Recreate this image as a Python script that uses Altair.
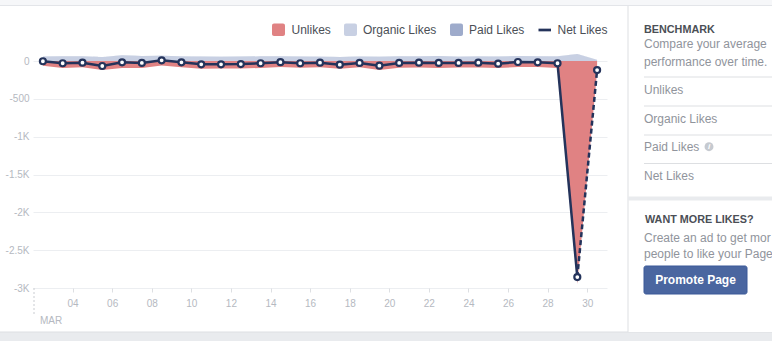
import altair as alt
import pandas as pd

FONT = "Liberation Sans"
OX, OY = 33, 61          # plot-area origin on the page
W, H = 574, 227

# ---- data (March, daily) ----
days = list(range(2, 31))
net = [-3, -30, -22, -66, -17, -26, 9, -17, -44, -44, -40, -30, -15, -30, -22,
       -49, -26, -62, -26, -22, -26, -26, -22, -36, -13, -17, -30, -2855, -120]
organic = [57, 61, 60, 52, 72, 64, 67, 62, 57, 54, 57, 60, 61, 56, 59,
           51, 56, 54, 60, 62, 64, 59, 62, 56, 64, 60, 62, 88, 16]
paid = [2, 2, 2, 1, 3, 2, 2, 2, 2, 2, 2, 2, 2, 2, 2,
        1, 2, 2, 2, 2, 2, 2, 2, 2, 2, 2, 2, 4, 1]
unlikes = [62, 93, 84, 119, 92, 92, 60, 81, 103, 100, 99, 92, 78, 88, 83,
           101, 84, 118, 88, 86, 92, 87, 86, 94, 79, 79, 94, 2947, 137]

y_ticks = [-3000, -2500, -2000, -1500, -1000, -500, 0]
x_ticks = list(range(4, 31, 2))
legend_items = ["Unlikes", "Organic Likes", "Paid Likes", "Net Likes"]
bench_items = ["Unlikes", "Organic Likes", "Paid Likes", "Net Likes"]

C_UNL = "#e08283"
C_ORG = "#c8d0e3"
C_PAID = "#9eabcb"
C_NET = "#24335b"
C_AX = "#b5b9c1"
C_TXT = "#4b4f56"
C_GRAY = "#90949c"

df = pd.DataFrame({"day": days, "net": net, "organic": organic,
                   "paid": paid, "unlikes": unlikes})
df["x"] = df["day"] + 0.5
df["zero"] = 0
df["unl_lo"] = -df["unlikes"]
df["paid_hi"] = df["organic"] + df["paid"]

solid = df[df["day"] <= 29]
dashed = df[df["day"] >= 29]

xscale = alt.Scale(domain=[2, 31], nice=False, zero=False)
yscale = alt.Scale(domain=[-3000, 0], nice=False, zero=False)
xaxis = alt.Axis(values=x_ticks, title=None, grid=False, domain=False,
                 ticks=True, tickSize=4, tickColor="#dddfe2", labelColor=C_AX,
                 labelFont=FONT, labelFontSize=10, labelPadding=6,
                 labelOverlap=False,
                 labelExpr="datum.value < 10 ? '0' + datum.value : '' + datum.value")
yaxis = alt.Axis(values=y_ticks, title=None, grid=True, gridColor="#eceef1",
                 domain=False, ticks=False, labelColor=C_AX, labelFont=FONT,
                 labelFontSize=10, labelPadding=4,
                 labelExpr="datum.value == 0 ? '0' : (datum.value <= -1000 ? (datum.value/1000) + 'K' : '' + datum.value)")

def X():
    return alt.X("x:Q", scale=xscale, axis=xaxis)

def Y(f):
    return alt.Y(f + ":Q", scale=yscale, axis=yaxis)

area_unl = alt.Chart(df).mark_area(color=C_UNL, opacity=1).encode(
    x=X(), y=Y("unl_lo"), y2="zero:Q")
area_org = alt.Chart(df).mark_area(color=C_ORG, opacity=1).encode(
    x=X(), y=Y("organic"), y2="zero:Q")
area_paid = alt.Chart(df).mark_area(color=C_PAID, opacity=1).encode(
    x=X(), y=Y("paid_hi"), y2="organic:Q")
line_solid = alt.Chart(solid).mark_line(color=C_NET, strokeWidth=2.5).encode(
    x=X(), y=Y("net"))
line_dash = alt.Chart(dashed).mark_line(color=C_NET, strokeWidth=2.5,
                                        strokeDash=[5, 3]).encode(
    x=X(), y=Y("net"))
pts = alt.Chart(df).mark_point(shape="circle", filled=True, fill="white",
                               stroke=C_NET, strokeWidth=2.2, size=36,
                               opacity=1).encode(x=X(), y=Y("net"))

one = pd.DataFrame({"k": [0]})

def rect(x1, x2, y1, y2, fill, stroke=None, sw=1, cr=0):
    kw = dict(fill=fill, cornerRadius=cr)
    if stroke:
        kw["stroke"] = stroke
        kw["strokeWidth"] = sw
    return alt.Chart(one).mark_rect(**kw).encode(
        x=alt.value(x1 - OX), x2=alt.value(x2 - OX),
        y=alt.value(y1 - OY), y2=alt.value(y2 - OY))

def rule(x1, x2, y1, y2, color, sw=1, dash=None):
    kw = dict(color=color, strokeWidth=sw)
    if dash:
        kw["strokeDash"] = dash
    return alt.Chart(one).mark_rule(**kw).encode(
        x=alt.value(x1 - OX), x2=alt.value(x2 - OX),
        y=alt.value(y1 - OY), y2=alt.value(y2 - OY))

def text(s, x, y, size=12, color=C_TXT, weight="normal", align="left",
         style="normal"):
    return alt.Chart(one).mark_text(text=s, align=align, baseline="middle",
                                    font=FONT, fontSize=size, fontWeight=weight,
                                    fontStyle=style, color=color).encode(
        x=alt.value(x - OX), y=alt.value(y - OY))

deco = [
    rect(0, 772, 0, 5, "#f6f7f9"),
    rule(0, 772, 5.5, 5.5, "#e3e5e9"),
    rect(0, 772, 332, 341, "#e9ebee"),
    rule(0, 772, 332, 332, "#dddfe2"),
]

extra = [
    rule(34, 34, 288, 316, "#c9ccd1", 1, [2, 2]),
    text("MAR", 40, 321, 10, C_AX),
]

# legend
legend = [
    rect(272, 285, 23.5, 36, C_UNL, cr=2),
    text(legend_items[0], 291.5, 30, 12, C_TXT),
    rect(344, 357, 23.5, 36, C_ORG, cr=2),
    text(legend_items[1], 363, 30, 12, C_TXT),
    rect(450, 463, 23.5, 36, C_PAID, cr=2),
    text(legend_items[2], 469, 30, 12, C_TXT),
    rule(538.5, 551, 30, 30, C_NET, 2.7),
    text(legend_items[3], 557.5, 30, 12, C_TXT),
]

# right panel
panel = [
    rect(628, 772, 6, 332, "white"),
    rule(628, 628, 6, 332, "#dddfe2"),
    rect(628, 772, 196.5, 200.5, "#e9ebee"),
    text("BENCHMARK", 644, 29.5, 10.8, C_TXT, "bold"),
    text("Compare your average", 644, 44, 12, C_GRAY),
    text("performance over time.", 644, 61.5, 12, C_GRAY),
    rule(644, 772, 77, 77, "#dddfe2"),
    text(bench_items[0], 644, 89.5, 12, C_GRAY),
    rule(644, 772, 106, 106, "#dddfe2"),
    text(bench_items[1], 644, 118.5, 12, C_GRAY),
    rule(644, 772, 135, 135, "#dddfe2"),
    text(bench_items[2], 644, 147, 12, C_GRAY),
    alt.Chart(one).mark_circle(size=80, color="#c6cad0", opacity=1).encode(
        x=alt.value(709 - OX), y=alt.value(146.7 - OY)),
    text("i", 709, 147, 8, "white", "bold", "center", "italic"),
    rule(644, 772, 163.5, 163.5, "#dddfe2"),
    text(bench_items[3], 644, 176, 12, C_GRAY),
    text("WANT MORE LIKES?", 645, 219.5, 10.8, C_TXT, "bold"),
    text("Create an ad to get mor", 644, 238, 12, C_GRAY),
    text("people to like your Page", 644, 253.5, 12, C_GRAY),
    rect(644, 747, 266, 294, "#4a66a0", stroke="#3b5998", sw=1, cr=2),
    text("Promote Page", 695.5, 280, 12, "white", "bold", "center"),
]

chart = alt.layer(
    *deco, area_unl, area_org, area_paid, line_solid, line_dash, pts,
    *extra, *legend, *panel
).properties(
    width=W, height=H,
    padding={"left": OX, "top": OY, "right": 772 - OX - W, "bottom": 341 - OY - H},
    autosize="none",
    background="white",
).configure_view(strokeWidth=0)

chart.save("out.html", embed_options={"renderer": "svg", "actions": False})
